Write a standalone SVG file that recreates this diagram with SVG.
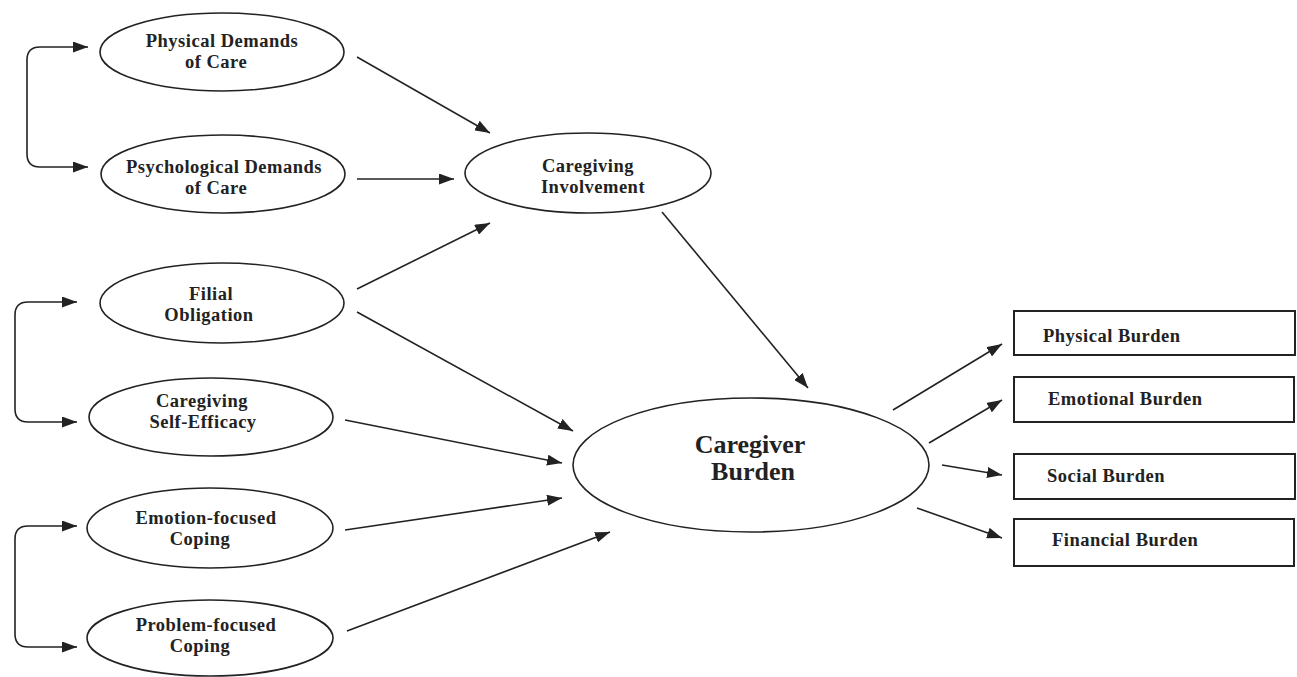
<svg xmlns="http://www.w3.org/2000/svg" width="1297" height="677" viewBox="0 0 1297 677">
<style>
.node ellipse{fill:#fff;stroke:#222;stroke-width:1.6}
.node rect{fill:#fff;stroke:#222;stroke-width:2}
.t{font-family:"Liberation Serif","Times New Roman",serif;font-weight:bold;font-size:18.5px;letter-spacing:0.5px;fill:#222;text-anchor:middle}
.tb{font-family:"Liberation Serif","Times New Roman",serif;font-weight:bold;font-size:18.5px;letter-spacing:0.5px;fill:#222}
.big{font-size:26px;letter-spacing:0}
.edges path{fill:none;stroke:#222;stroke-width:1.6;marker-end:url(#ah)}
.edges path.br{marker-start:url(#ah)}
</style>
<defs>
<marker id="ah" markerUnits="userSpaceOnUse" markerWidth="15" markerHeight="11" refX="15" refY="5.5" orient="auto-start-reverse">
<path d="M0,0 L15,5.5 L0,11 z" fill="#222"/>
</marker>
</defs>
<rect width="1297" height="677" fill="#fff"/>
<g class="edges">
<path class="br" d="M88,47 H40 Q27,47 27,60 V154 Q27,167 40,167 H88"/>
<path class="br" d="M77,302 H28 Q15,302 15,315 V409 Q15,422 28,422 H77"/>
<path class="br" d="M77,526 H28 Q15,526 15,539 V634 Q15,647 28,647 H77"/>
<path d="M357,57 L490,133"/>
<path d="M357,179 L454,179"/>
<path d="M357,289 L490,223"/>
<path d="M357,312 L573,431"/>
<path d="M662,212 L808,388"/>
<path d="M345,420 L562,463"/>
<path d="M345,530 L562,498"/>
<path d="M347,631 L610,532"/>
<path d="M893,410 L1002,344"/>
<path d="M929,443 L1002,400"/>
<path d="M942,465 L1002,475"/>
<path d="M917,508 L1002,538"/>
</g>
<g id="physical-demands" class="node"><ellipse cx="222" cy="52" rx="122" ry="39"/><text class="t" x="222" y="47">Physical Demands</text><text class="t" x="216" y="68">of Care</text></g>
<g id="psychological-demands" class="node"><ellipse cx="223" cy="174" rx="122" ry="39"/><text class="t" x="224" y="173">Psychological Demands</text><text class="t" x="216" y="194">of Care</text></g>
<g id="filial-obligation" class="node"><ellipse cx="222" cy="303" rx="122" ry="40"/><text class="t" x="211" y="300">Filial</text><text class="t" x="209" y="321">Obligation</text></g>
<g id="self-efficacy" class="node"><ellipse cx="211" cy="417" rx="122" ry="39"/><text class="t" x="202" y="407">Caregiving</text><text class="t" x="203" y="428">Self-Efficacy</text></g>
<g id="emotion-coping" class="node"><ellipse cx="210" cy="528" rx="123" ry="40"/><text class="t" x="206" y="524">Emotion-focused</text><text class="t" x="200" y="545">Coping</text></g>
<g id="problem-coping" class="node"><ellipse cx="210" cy="638" rx="123" ry="38"/><text class="t" x="206" y="631">Problem-focused</text><text class="t" x="200" y="652">Coping</text></g>
<g id="caregiving-involvement" class="node"><ellipse cx="588" cy="173" rx="123" ry="40"/><text class="t" x="588" y="172">Caregiving</text><text class="t" x="593" y="193">Involvement</text></g>
<g id="caregiver-burden" class="node"><ellipse cx="751" cy="465" rx="178" ry="67"/><text class="t big" x="750" y="453">Caregiver</text><text class="t big" x="753" y="480">Burden</text></g>
<g id="physical-burden" class="node"><rect x="1014" y="311" width="281" height="44"/><text class="tb" x="1043" y="342">Physical Burden</text></g>
<g id="emotional-burden" class="node"><rect x="1014" y="377" width="280" height="45"/><text class="tb" x="1048" y="405">Emotional Burden</text></g>
<g id="social-burden" class="node"><rect x="1014" y="454" width="281" height="45"/><text class="tb" x="1047" y="482">Social Burden</text></g>
<g id="financial-burden" class="node"><rect x="1014" y="519" width="280" height="47"/><text class="tb" x="1052" y="546">Financial Burden</text></g>
</svg>
